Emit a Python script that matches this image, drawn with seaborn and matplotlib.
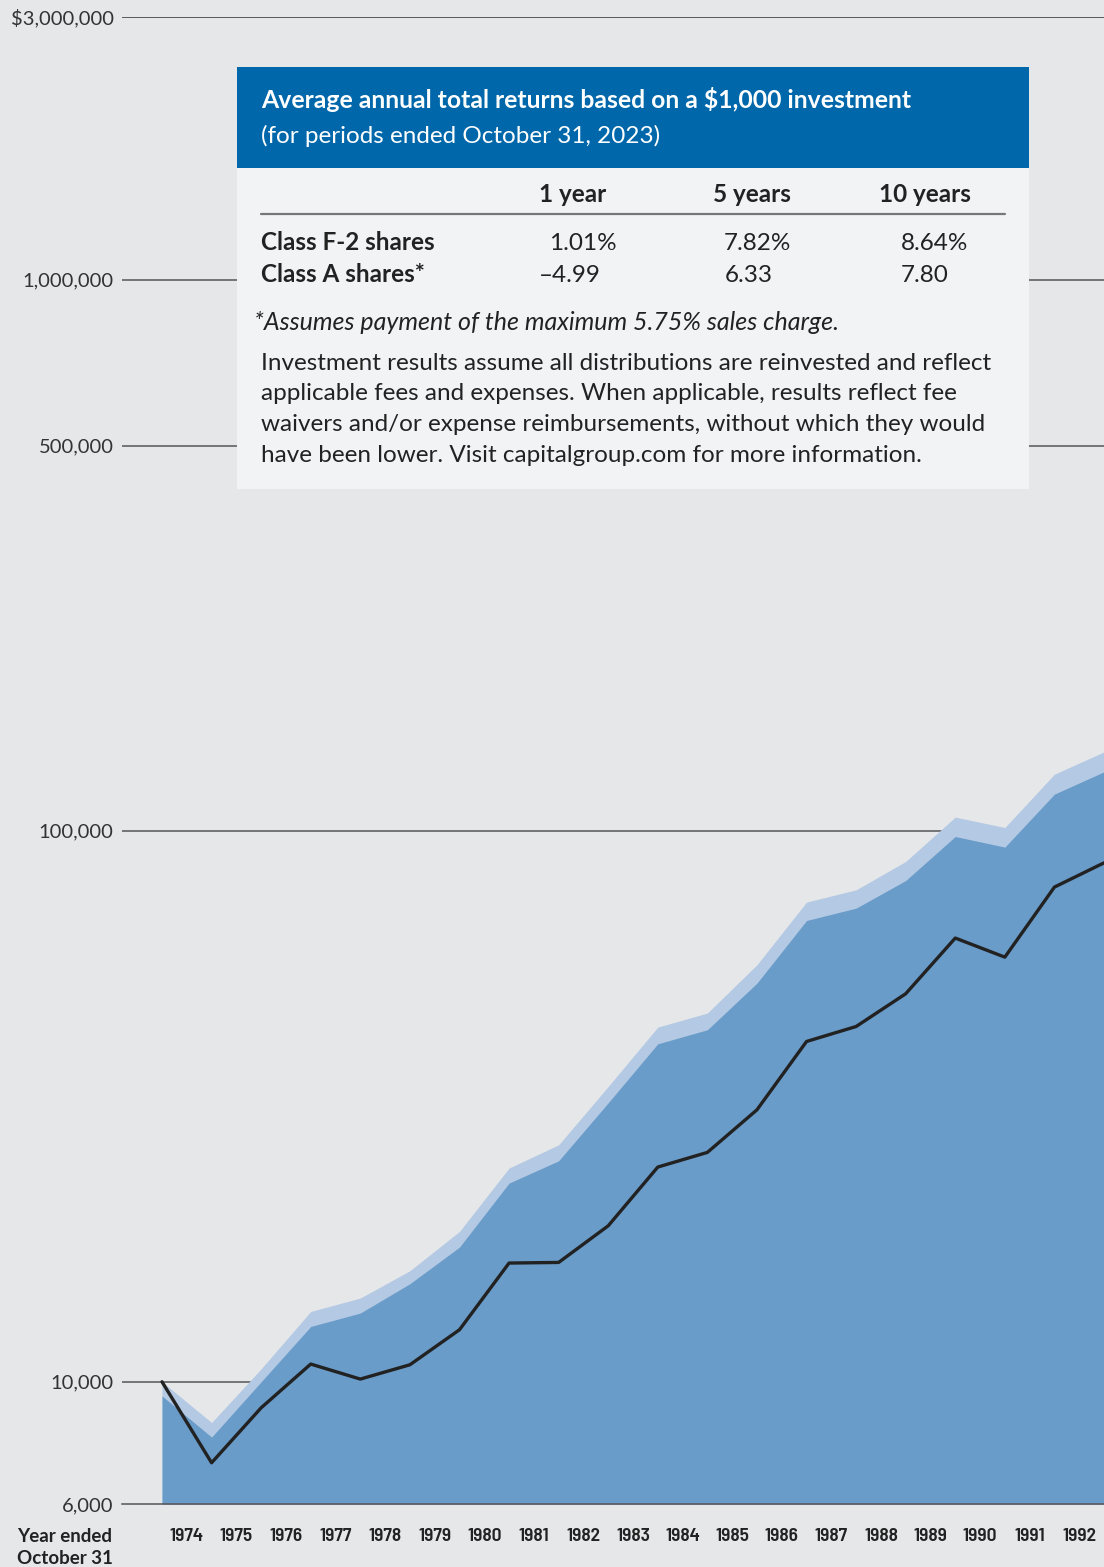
import numpy as np
import pandas as pd
import matplotlib
matplotlib.use("Agg")
import matplotlib.pyplot as plt
import seaborn as sns
from matplotlib.patches import Rectangle
from matplotlib import font_manager

# ---------------- data ----------------
years = list(range(1973, 1993))  # fiscal year ends (Oct 31); 1973 = start
class_f2 = [10000, 8435, 10558, 13417, 14190, 15906, 18743, 24430, 26920, 34350,
            44030, 46690, 57130, 74240, 78150, 87970, 105900, 101400, 126700, 139100]
class_a = [9425, 7936, 10000, 12600, 13327, 15065, 17556, 22940, 25180, 32090,
           41060, 43540, 52910, 68740, 72380, 81240, 97660, 93410, 116570, 127970]
index_line = [10000, 7128, 8970, 10768, 10113, 10736, 12428, 16424, 16466, 19190,
              24530, 26080, 31160, 41460, 44140, 50610, 63880, 58980, 79040, 87470]
year_labels = [str(y) for y in range(1974, 1993)]
y_ticks = [6000, 10000, 100000, 500000, 1000000, 3000000]
y_tick_labels = ["6,000", "10,000", "100,000", "500,000", "1,000,000", "$3,000,000"]

table_cols = ["1 year", "5 years", "10 years"]
row_f2 = ["1.01%", "7.82%", "8.64%"]
row_a = ["\u20134.99", "6.33", "7.80"]

df = pd.DataFrame({"year": years, "f2": class_f2, "a": class_a, "idx": index_line})

# ---------------- style ----------------
W, H = 1104, 1567
BG = "#E6E7E9"
sns.set_style("white")
plt.rcParams["font.family"] = ["Lato", "DejaVu Sans"]

# condensed bold font for the year labels
cond_fp = None
prefs = ["BarlowSemiCondensed-SemiBold.ttf", "BarlowCondensed-SemiBold.ttf", "BarlowCondensed-Bold.ttf",
         "AsapCondensed-Bold.ttf", "DejaVuSansCondensed-Bold.ttf"]
files = {f.fname.split("/")[-1]: f.fname for f in font_manager.fontManager.ttflist}
for p in prefs:
    if p in files:
        cond_fp = font_manager.FontProperties(fname=files[p], size=14)
        break

fig = plt.figure(figsize=(W / 100, H / 100), dpi=100, facecolor=BG)

def fx(px):
    return px / W

def fy(py):
    return 1 - py / H

ax_left, ax_right = 122, 1104
ax_top, ax_bot = 17, 1504
ax = fig.add_axes([fx(ax_left), fy(ax_bot), (ax_right - ax_left) / W, (ax_bot - ax_top) / H])
ax.set_facecolor(BG)

x_start = 1973
x_end = 1992
px_per_year = (1104 - 162) / (x_end - x_start)
x_min = x_start - (162 - ax_left) / px_per_year

ax.set_yscale("log")
ax.set_ylim(6000, 3000000)
ax.set_xlim(x_min, x_end)

# gridlines (behind areas)
for v in y_ticks[1:]:
    ax.axhline(v, color="#555555" if v != 3000000 else "#333333", lw=1.1, zorder=0.5)

ax.fill_between(df["year"], 6000, df["f2"], color="#B4C9E3", lw=0, zorder=1)
ax.fill_between(df["year"], 6000, df["a"], color="#699CC9", lw=0, zorder=2)
sns.lineplot(data=df, x="year", y="idx", color="#222222", lw=2.4, ax=ax, zorder=3)

ax.set_xlabel("")
ax.set_ylabel("")

for s in ["top", "right", "left"]:
    ax.spines[s].set_visible(False)
ax.spines["bottom"].set_color("#555555")
ax.spines["bottom"].set_linewidth(1.1)
ax.spines["bottom"].set_zorder(4)

ax.set_yticks(y_ticks)
ax.set_yticklabels(y_tick_labels)
ax.yaxis.set_minor_locator(matplotlib.ticker.NullLocator())
ax.tick_params(axis="y", which="both", length=0, pad=6, labelsize=14.5, labelcolor="#333333")

ax.set_xticks(years)
ax.set_xticklabels([""] * len(years))
ax.set_xticks([y + 0.5 for y in years[:-1]], minor=True)
if cond_fp is not None:
    ax.set_xticklabels(year_labels, minor=True, fontproperties=cond_fp, color="#222222")
else:
    ax.set_xticklabels(year_labels, minor=True, fontweight="bold", fontsize=12, color="#222222")
ax.tick_params(axis="x", which="major", length=12, width=1.1, color="#555555", direction="out")
ax.tick_params(axis="x", which="minor", length=0, pad=17)

fig.text(fx(17), fy(1537), "Year ended", fontsize=13.5, fontweight="bold",
         color="#222222", ha="left", va="center")
fig.text(fx(17), fy(1558), "October 31", fontsize=13.5, fontweight="bold",
         color="#222222", ha="left", va="center")

# ---------------- table box ----------------
bx0, bx1 = 237, 1029
hy0, hy1, by1 = 67, 168, 489
fig.add_artist(Rectangle((fx(bx0), fy(hy1)), (bx1 - bx0) / W, (hy1 - hy0) / H,
                         transform=fig.transFigure, facecolor="#0067AA", edgecolor="none", zorder=5))
fig.add_artist(Rectangle((fx(bx0), fy(by1)), (bx1 - bx0) / W, (by1 - hy1) / H,
                         transform=fig.transFigure, facecolor="#F2F3F5", edgecolor="none", zorder=5))

FS = 17.5
fig.text(fx(261), fy(99), "Average annual total returns based on a $1,000 investment",
         color="white", fontsize=17.8, fontweight="bold", ha="left", va="center", zorder=6)
fig.text(fx(261), fy(136), "(for periods ended October 31, 2023)",
         color="white", fontsize=FS, ha="left", va="center", zorder=6)

col_centers = [573, 752, 925]
for c, t in zip(col_centers, table_cols):
    fig.text(fx(c), fy(195), t, color="#222222", fontsize=FS, fontweight="bold",
             ha="center", va="center", zorder=6)
fig.add_artist(plt.Line2D([fx(261), fx(1005)], [fy(214), fy(214)], transform=fig.transFigure,
                          color="#777777", lw=1.6, zorder=6))

fig.text(fx(261), fy(243), "Class F-2 shares", color="#222222", fontsize=FS, fontweight="bold",
         ha="left", va="center", zorder=6)
fig.text(fx(261), fy(275), "Class A shares*", color="#222222", fontsize=FS, fontweight="bold",
         ha="left", va="center", zorder=6)
for xpos, t in zip([549, 724, 901], row_f2):
    fig.text(fx(xpos), fy(243), t, color="#222222", fontsize=FS, ha="left", va="center", zorder=6)
for xpos, t in zip([539, 725, 901], row_a):
    fig.text(fx(xpos), fy(275), t, color="#222222", fontsize=FS, ha="left", va="center", zorder=6)

fig.text(fx(254), fy(322), "*Assumes payment of the maximum 5.75% sales charge.",
         color="#222222", fontsize=18, style="italic", ha="left", va="center", zorder=6)

para = ["Investment results assume all distributions are reinvested and reflect",
        "applicable fees and expenses. When applicable, results reflect fee",
        "waivers and/or expense reimbursements, without which they would",
        "have been lower. Visit capitalgroup.com for more information."]
for i, line in enumerate(para):
    fig.text(fx(261), fy(363 + i * 30.7), line, color="#222222", fontsize=FS,
             ha="left", va="center", zorder=6)

fig.savefig("out.png", dpi=100, facecolor=BG)
